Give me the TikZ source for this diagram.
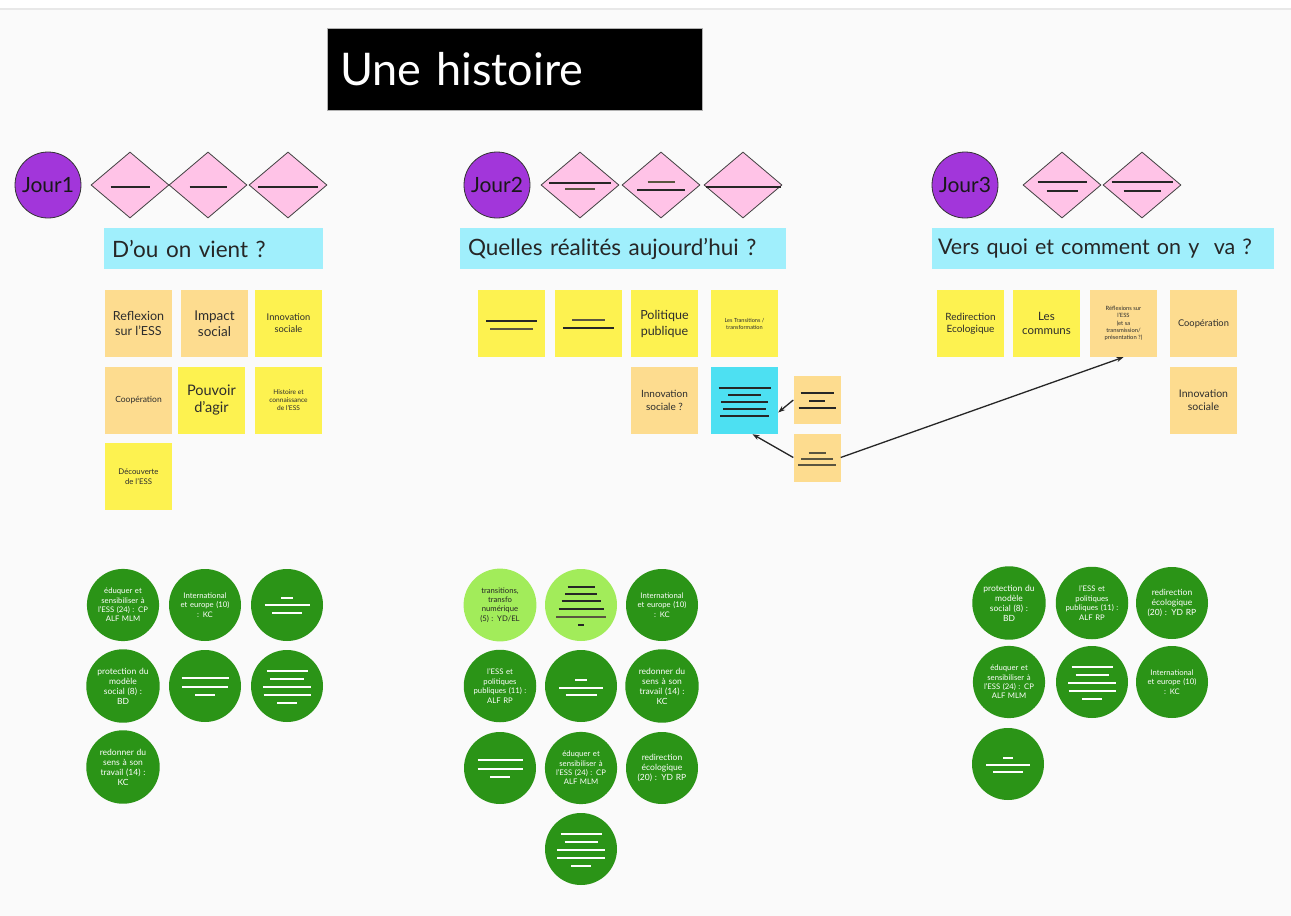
\documentclass[tikz,border=0pt]{standalone}
\usepackage{fontspec}
\setmainfont{Lato}
\usetikzlibrary{shapes.geometric,arrows.meta}
\definecolor{bgc}{HTML}{FAFAFA}
\definecolor{topline}{HTML}{E8E8E8}
\definecolor{peach}{HTML}{FDDC8F}
\definecolor{yel}{HTML}{FDF250}
\definecolor{hdr}{HTML}{A0EFFC}
\definecolor{cyst}{HTML}{4DE0F2}
\definecolor{pinkd}{HTML}{FFC3E7}
\definecolor{purp}{HTML}{A236DA}
\definecolor{grn}{HTML}{2B9417}
\definecolor{lgrn}{HTML}{A2EC5A}
\definecolor{txt}{HTML}{2D2D2D}
\definecolor{olive}{HTML}{5A5540}
\newcommand\fs[2]{\fontsize{#1}{#2}\selectfont}
\newcommand\mkline[4][dkline]{\draw[#1] ([shift={({-(#4)/2},#3)}]#2.center) -- ++(#4,0);}
\begin{document}
\begin{tikzpicture}[x=1pt,y=-1pt,
  titlebox/.style={rectangle,fill=black,draw=gray!60,line width=0.6pt,minimum width=375pt,minimum height=82pt,text width=349pt,inner xsep=13pt,align=left,text=white,font=\fs{45}{50}},
  jour/.style={circle,fill=purp,draw=black!80,line width=0.8pt,minimum size=66pt,inner sep=0pt,text=black!90,font=\fs{21}{24}},
  dia/.style={diamond,fill=pinkd,draw=black!75,line width=0.8pt,minimum width=78pt,minimum height=66pt,inner sep=0pt},
  hdrbox/.style={rectangle,fill=hdr,minimum height=41pt,inner xsep=8pt,align=left,text=black!85,font=\fs{22.5}{25}},
  sticky/.style={rectangle,minimum width=67pt,minimum height=67pt,inner sep=1pt,align=center,text=txt},
  smst/.style={rectangle,fill=peach,minimum width=47pt,minimum height=48pt,inner sep=0pt},
  gc/.style={circle,fill=grn,minimum size=72pt,inner sep=0pt,align=center,text=white,text width=64pt,font=\fs{7.7}{9.4}},
  lgc/.style={gc,fill=lgrn,text=black!85},
  dkline/.style={draw=black!85,line width=2pt},
  olline/.style={draw=olive,line width=2pt},
  wline/.style={draw=white,line width=2pt},
  arr/.style={draw=black!85,line width=1.3pt,-{Stealth[length=7pt,width=5pt]}}
]
\useasboundingbox (0,0) rectangle (1291,916);
\fill[white] (0,0) rectangle (1291,916);
\fill[bgc] (0,10) rectangle (1291,916);
\draw[topline,line width=1.5pt] (0,9) -- (1291,9);

% title
\node[titlebox] (title) at (514.5,69) {Une histoire};

% ---------- Jour1 ----------
\node[jour] (j1) at (48,185) {Jour1};
\node[dia] (d11) at (130,185) {};
\node[dia] (d12) at (208,185) {};
\node[dia] (d13) at (288,185) {};
\mkline{d11}{2}{39}
\mkline{d12}{2}{37}
\mkline{d13}{2}{60}
\node[hdrbox,minimum width=219pt,text width=203pt] (h1) at (213.5,248.5) {D'ou on vient ?};

\node[sticky,fill=peach,font=\fs{12.5}{15.5}] (a1) at (138.5,323.5) {Reflexion\\sur l'ESS};
\node[sticky,fill=peach,font=\fs{13.5}{16.5}] (a2) at (214.5,323.5) {Impact\\social};
\node[sticky,fill=yel,font=\fs{9.3}{12}] (a3) at (288.5,323.5) {Innovation\\sociale};
\node[sticky,fill=peach,font=\fs{8.5}{10}] (a4) at (138.5,400.5) {Coopération};
\node[sticky,fill=yel,font=\fs{14.5}{17}] (a5) at (211.5,400.5) {Pouvoir\\d'agir};
\node[sticky,fill=yel,font=\fs{6.6}{8}] (a6) at (288.5,400.5) {Histoire et\\connaissance\\de l'ESS};
\node[sticky,fill=yel,font=\fs{7.8}{10}] (a7) at (138.5,476.5) {Découverte\\de l'ESS};

\node[gc] (g11) at (123,605) {éduquer et\\sensibiliser à\\l'ESS (24) : CP\\ALF MLM};
\node[gc] (g12) at (205,605) {International\\et europe (10)\\: KC};
\node[gc] (g13) at (287,605) {};
\mkline[wline]{g13}{-7}{12}
\mkline[wline]{g13}{0}{45}
\mkline[wline]{g13}{8}{30}
\node[gc,font=\fs{8.5}{10}] (g14) at (123,686) {protection du\\modèle\\social (8) :\\BD};
\node[gc] (g15) at (205,686) {};
\mkline[wline]{g15}{-8}{47}
\mkline[wline]{g15}{1}{46}
\mkline[wline]{g15}{9}{20}
\node[gc] (g16) at (287,686) {};
\mkline[wline]{g16}{-15}{41}
\mkline[wline]{g16}{-7}{34}
\mkline[wline]{g16}{1}{48}
\mkline[wline]{g16}{9}{47}
\mkline[wline]{g16}{17}{20}
\node[gc,font=\fs{8.5}{10}] (g17) at (123,767) {redonner du\\sens à son\\travail (14) :\\KC};

% ---------- Jour2 ----------
\node[jour] (j2) at (497,185) {Jour2};
\node[dia] (d21) at (580,185) {};
\node[dia] (d22) at (661,185) {};
\node[dia] (d23) at (743,185) {};
\mkline{d21}{-2}{62}
\mkline[olline]{d21}{4}{30}
\mkline[olline]{d22}{-3}{27}
\mkline{d22}{5}{48}
\mkline{d23}{2}{75}
\node[hdrbox,minimum width=326pt,text width=310pt] (h2) at (623,248.5) {Quelles réalités aujourd'hui ?};

\node[sticky,fill=yel] (b1) at (511.5,323.5) {};
\mkline{b1}{-3}{51}
\mkline[olline]{b1}{5}{43}
\node[sticky,fill=yel] (b2) at (588.5,323.5) {};
\mkline[olline]{b2}{-4}{33}
\mkline{b2}{4}{51}
\node[sticky,fill=yel,font=\fs{12.5}{16}] (b3) at (664.5,323.5) {Politique\\publique};
\node[sticky,fill=yel,font=\fs{5.6}{7}] (b4) at (744.5,323.5) {Les Transitions /\\transformation};
\node[sticky,fill=peach,font=\fs{10}{12.5}] (b5) at (664.5,400.5) {Innovation\\sociale ?};
\node[sticky,fill=cyst] (b6) at (744.5,400.5) {};
\mkline{b6}{-13}{52}
\mkline{b6}{-6}{33}
\mkline{b6}{1}{47}
\mkline{b6}{8}{43}
\mkline{b6}{15}{49}
\node[smst] (s1) at (817,400) {};
\mkline{s1}{-7}{33}
\mkline{s1}{1}{16}
\mkline{s1}{8}{37}
\node[smst] (s2) at (817,457.5) {};
\mkline[olline]{s2}{-5}{17}
\mkline[olline]{s2}{1.5}{32}
\mkline[olline]{s2}{7.5}{38}

\node[lgc] (g21) at (500,605) {transitions,\\transfo\\numérique\\(5) : YD/EL};
\node[lgc] (g22) at (581,605) {};
\mkline{g22}{-18}{27}
\mkline{g22}{-11}{32}
\mkline{g22}{-4}{39}
\mkline{g22}{4}{45}
\mkline[olline]{g22}{12}{50}
\mkline{g22}{20}{6}
\node[gc] (g23) at (662,605) {International\\et europe (10)\\: KC};
\node[gc] (g24) at (500,686) {l'ESS et\\politiques\\publiques (11) :\\ALF RP};
\node[gc] (g25) at (581,686) {};
\mkline[wline]{g25}{-6}{12}
\mkline[wline]{g25}{2}{44}
\mkline[wline]{g25}{9}{31}
\node[gc,font=\fs{8.5}{10}] (g26) at (662,686) {redonner du\\sens à son\\travail (14) :\\KC};
\node[gc] (g27) at (500,768) {};
\mkline[wline]{g27}{-8}{45}
\mkline[wline]{g27}{1}{45}
\mkline[wline]{g27}{9}{20}
\node[gc] (g28) at (581,768) {éduquer et\\sensibiliser à\\l'ESS (24) : CP\\ALF MLM};
\node[gc,font=\fs{8.5}{10}] (g29) at (662,768) {redirection\\écologique\\(20) : YD RP};
\node[gc] (g210) at (581,849) {};
\mkline[wline]{g210}{-15}{41}
\mkline[wline]{g210}{-7}{33}
\mkline[wline]{g210}{1}{48}
\mkline[wline]{g210}{9}{48}
\mkline[wline]{g210}{17}{20}

% ---------- Jour3 ----------
\node[jour] (j3) at (965,185) {Jour3};
\node[dia] (d31) at (1062,185) {};
\node[dia] (d32) at (1142,185) {};
\mkline{d31}{-3}{49}
\mkline{d31}{6}{31}
\mkline{d32}{-3}{61}
\mkline{d32}{6}{37}
\node[hdrbox,minimum width=342pt,text width=330pt,inner xsep=6pt,font=\fs{21.5}{25}] (h3) at (1103,248.5) {Vers quoi et comment on y\ \ va ?};

\node[sticky,fill=yel,font=\fs{10}{12.5}] (c1) at (970.5,323.5) {Redirection\\Ecologique};
\node[sticky,fill=yel,font=\fs{11.5}{14}] (c2) at (1046.5,323.5) {Les\\communs};
\node[sticky,fill=peach,font=\fs{5.8}{7.3}] (c3) at (1123.5,323.5) {Réflexions sur\\l'ESS\\(et sa\\transmission/\\présentation ?)};
\node[sticky,fill=peach,font=\fs{9.3}{12}] (c4) at (1203.5,323.5) {Coopération};
\node[sticky,fill=peach,font=\fs{10.5}{13}] (c5) at (1203.5,400.5) {Innovation\\sociale};

\node[gc,font=\fs{8.5}{10}] (g31) at (1009,603) {protection du\\modèle\\social (8) :\\BD};
\node[gc] (g32) at (1092,603) {l'ESS et\\politiques\\publiques (11) :\\ALF RP};
\node[gc,font=\fs{8.5}{10}] (g33) at (1172,603) {redirection\\écologique\\(20) : YD RP};
\node[gc] (g34) at (1009,682) {éduquer et\\sensibiliser à\\l'ESS (24) : CP\\ALF MLM};
\node[gc] (g35) at (1092,682) {};
\mkline[wline]{g35}{-15}{41}
\mkline[wline]{g35}{-7}{33}
\mkline[wline]{g35}{1}{48}
\mkline[wline]{g35}{9}{47}
\mkline[wline]{g35}{17}{20}
\node[gc] (g36) at (1172,682) {International\\et europe (10)\\: KC};
\node[gc] (g37) at (1008,764) {};
\mkline[wline]{g37}{-6}{10}
\mkline[wline]{g37}{1}{44}
\mkline[wline]{g37}{8}{30}

% arrows
\draw[arr] (s1.west) -- ([yshift=-12pt]b6.east);
\draw[arr] (s2.west) -- ([xshift=8pt]b6.south);
\draw[arr] (s2.east) -- (c3.south);
\end{tikzpicture}
\end{document}
